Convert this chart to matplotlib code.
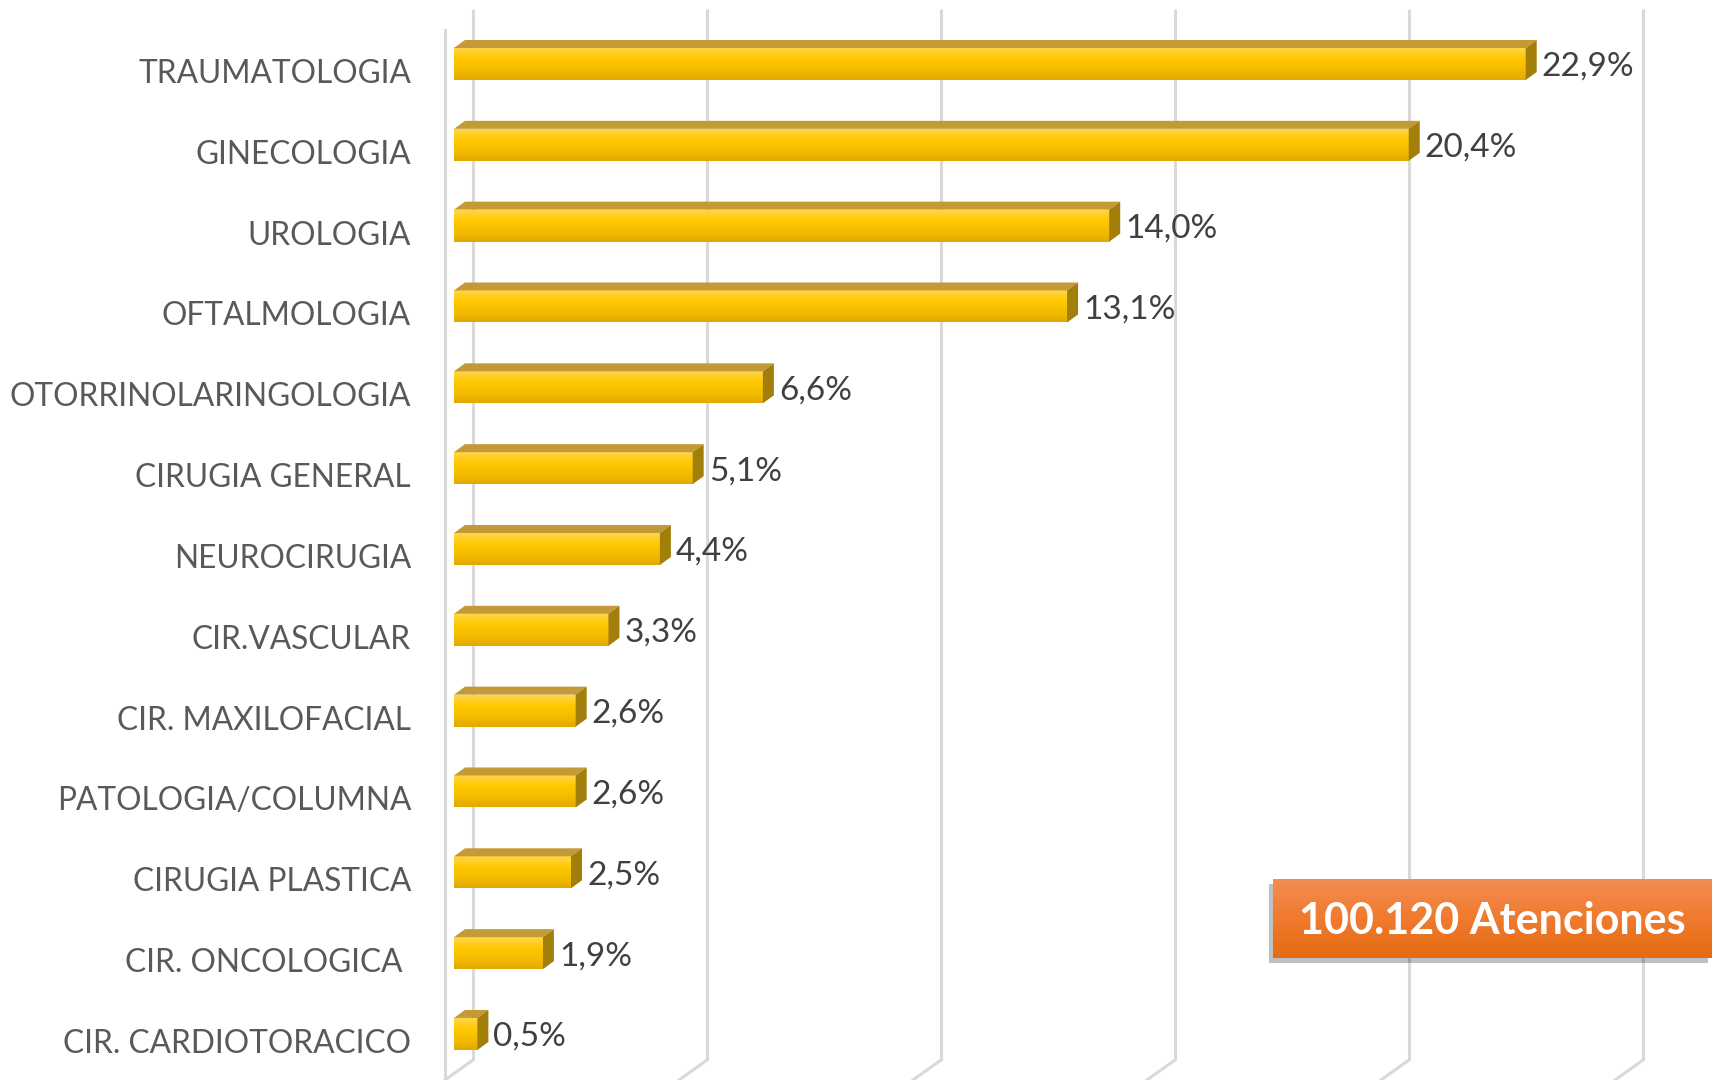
import matplotlib
matplotlib.use("Agg")
import matplotlib.pyplot as plt
import numpy as np
from matplotlib.patches import Polygon, FancyBboxPatch
from matplotlib.colors import LinearSegmentedColormap

categories = ["TRAUMATOLOGIA", "GINECOLOGIA", "UROLOGIA", "OFTALMOLOGIA",
              "OTORRINOLARINGOLOGIA", "CIRUGIA GENERAL", "NEUROCIRUGIA",
              "CIR.VASCULAR", "CIR. MAXILOFACIAL", "PATOLOGIA/COLUMNA",
              "CIRUGIA PLASTICA", "CIR. ONCOLOGICA ", "CIR. CARDIOTORACICO"]
values = [22.9, 20.4, 14.0, 13.1, 6.6, 5.1, 4.4, 3.3, 2.6, 2.6, 2.5, 1.9, 0.5]
value_labels = ["22,9%", "20,4%", "14,0%", "13,1%", "6,6%", "5,1%", "4,4%",
                "3,3%", "2,6%", "2,6%", "2,5%", "1,9%", "0,5%"]
grid_ticks = [0, 5, 10, 15, 20, 25]
total_label = "100.120 Atenciones"

W, H = 1717, 1080
fig = plt.figure(figsize=(W / 100, H / 100), dpi=100)

# axes placed so the data scale matches the reference layout
px_per_unit = 46.8
px_per_cat = 80.83
x0_px = 454
left_px, right_px = 400, W
ax = fig.add_axes([left_px / W, 0, (right_px - left_px) / W, 1])
ax.set_xlim((left_px - x0_px) / px_per_unit, (right_px - x0_px) / px_per_unit)
ax.set_ylim((H - 64) / px_per_cat, -64 / px_per_cat)
ax.axis("off")

def dx(px):
    return px / px_per_unit

def dy(px):
    return px / px_per_cat

grid_col = "#d9d9d9"
y_top = dy(9 - 64)
y_back_bottom = dy(1060 - 64)
y_front_bottom = dy(1080 - 64)
y_front_top = dy(30 - 64)
back_off = dx(19)
front_off = dx(-9)
for t in grid_ticks:
    xb = t + back_off
    ax.plot([xb, xb], [y_top, y_back_bottom], color=grid_col, lw=2.2, zorder=1,
            solid_capstyle="butt")
    ax.plot([xb, t + front_off], [y_back_bottom, y_front_bottom], color=grid_col,
            lw=2.2, zorder=1)
ax.plot([front_off, front_off], [y_front_top, y_front_bottom], color=grid_col,
        lw=2.2, zorder=1)

bar_h = 32 / px_per_cat
depth_x = dx(11)
depth_y = dy(8)
grad = LinearSegmentedColormap.from_list("g", ["#ffd54a", "#ffc800", "#f5bd00", "#e3a800"])
gy = np.linspace(0, 1, 64).reshape(-1, 1)

ypos = np.arange(len(categories))
bars = ax.barh(ypos, values, height=bar_h, color="#ffc800", zorder=3)
for i, (b, v) in enumerate(zip(bars, values)):
    yt = i - bar_h / 2
    yb = i + bar_h / 2
    ax.imshow(gy, cmap=grad, aspect="auto", extent=(0, v, yb, yt), zorder=4,
              interpolation="bilinear")
    top = Polygon([(0, yt), (depth_x, yt - depth_y), (v + depth_x, yt - depth_y), (v, yt)],
                  closed=True, facecolor="#c49a36", edgecolor="none", zorder=4)
    ax.add_patch(top)
    side = Polygon([(v, yt), (v + depth_x, yt - depth_y), (v + depth_x, yb - depth_y), (v, yb)],
                   closed=True, facecolor="#a27e0a", edgecolor="none", zorder=4)
    ax.add_patch(side)
    ax.text(v + depth_x + dx(5), i + dy(3), value_labels[i], ha="left", va="center",
            fontsize=24, color="#404040", family="Lato", zorder=5)
    ax.text(dx(411 - x0_px), i + dy(10), categories[i], ha="right", va="center",
            fontsize=22.8, color="#595959", family="Lato", zorder=5)

# total box
bx0, bx1 = dx(1273 - x0_px), dx(1712 - x0_px)
by0, by1 = dy(879 - 64), dy(958 - 64)
shadow = FancyBboxPatch((bx0 - dx(4), by0 + dy(5)), bx1 - bx0, by1 - by0,
                        boxstyle="square,pad=0", facecolor="#000000", alpha=0.25,
                        edgecolor="none", zorder=5)
ax.add_patch(shadow)
orange = LinearSegmentedColormap.from_list("o", ["#f28d52", "#f07a2e", "#e46c12"])
ax.imshow(gy, cmap=orange, aspect="auto", extent=(bx0, bx1, by1, by0), zorder=6,
          interpolation="bilinear")
ax.text((bx0 + bx1) / 2, (by0 + by1) / 2 + dy(2), total_label, ha="center", va="center",
        fontsize=31, color="white", fontweight="bold", family="Lato", zorder=7)

ax.set_xlim((left_px - x0_px) / px_per_unit, (right_px - x0_px) / px_per_unit)
ax.set_ylim((H - 64) / px_per_cat, -64 / px_per_cat)
fig.savefig("out.png", dpi=100, facecolor="white")
